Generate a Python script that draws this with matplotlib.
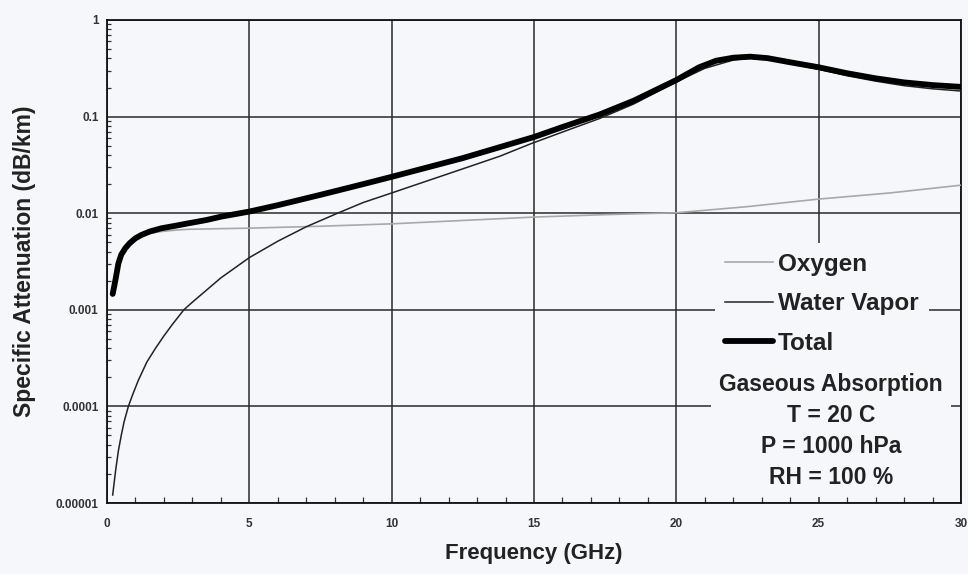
import matplotlib
matplotlib.use("Agg")
import matplotlib.pyplot as plt
from matplotlib.ticker import FixedLocator, LogLocator, NullFormatter, MultipleLocator

plt.rcParams['font.family'] = ['Liberation Sans', 'DejaVu Sans']

# ---- data ----
total_freq = [0.2, 0.3, 0.4, 0.5, 0.65, 0.8, 1.0, 1.2, 1.5, 1.9, 2.4, 2.85, 3.5, 4.0,
              5.0, 6.0, 7.5, 9.0, 10.0, 12.5, 15.0, 16.0, 17.3, 18.5, 20.0, 20.8,
              21.4, 22.0, 22.6, 23.2, 24.0, 25.0, 26.0, 27.0, 28.0, 29.0, 30.0]
total_val = [0.00146, 0.00206, 0.00302, 0.00372, 0.00437, 0.0049, 0.0055, 0.00594,
             0.00646, 0.00697, 0.00741, 0.00785, 0.00851, 0.0092, 0.0104, 0.0121,
             0.0155, 0.0200, 0.0238, 0.0372, 0.0615, 0.078, 0.105, 0.146, 0.239,
             0.324, 0.379, 0.407, 0.417, 0.403, 0.365, 0.324, 0.281, 0.249, 0.226,
             0.212, 0.203]

oxygen_freq = [0.2, 0.3, 0.4, 0.5, 0.65, 0.8, 1.0, 1.2, 1.5, 1.9, 2.4, 2.85, 4.0, 5.0,
               7.5, 10.0, 12.5, 15.0, 17.5, 20.0, 22.5, 25.0, 27.5, 30.0]
oxygen_val = [0.00145, 0.00204, 0.00299, 0.00367, 0.00427, 0.00479, 0.00537, 0.00575,
              0.00617, 0.00646, 0.00668, 0.00681, 0.00692, 0.00700, 0.00733, 0.00776,
              0.00841, 0.00912, 0.00966, 0.0101, 0.0117, 0.0140, 0.0162, 0.0195]

water_freq = [0.2, 0.3, 0.4, 0.5, 0.6, 0.75, 0.9, 1.1, 1.4, 1.7, 2.0, 2.3, 2.7, 3.0,
              4.0, 5.0, 6.0, 7.0, 8.1, 9.0, 10.0, 11.0, 12.5, 13.8, 14.9, 16.0, 17.3,
              18.5, 20.0, 21.0, 22.0, 22.6, 23.2, 24.0, 25.0, 26.0, 27.0, 28.0, 29.0,
              30.0]
water_val = [1.21e-5, 2.14e-5, 3.47e-5, 5.01e-5, 6.92e-5, 1.0e-4, 1.32e-4, 1.86e-4,
             2.88e-4, 3.98e-4, 5.37e-4, 7.08e-4, 1.0e-3, 1.20e-3, 2.14e-3, 3.47e-3,
             5.13e-3, 7.24e-3, 0.0100, 0.0129, 0.0162, 0.0204, 0.0288, 0.0389, 0.0525,
             0.0692, 0.0955, 0.135, 0.229, 0.316, 0.385, 0.405, 0.394, 0.353, 0.309,
             0.265, 0.233, 0.209, 0.194, 0.184]

x_ticks = [0, 5, 10, 15, 20, 25, 30]
y_ticks = [1e-5, 1e-4, 1e-3, 1e-2, 1e-1, 1]
y_tick_labels = ['0.00001', '0.0001', '0.001', '0.01', '0.1', '1']

legend_labels = ['Oxygen', 'Water Vapor', 'Total']
info_text = "Gaseous Absorption\nT = 20 C\nP = 1000 hPa\nRH = 100 %"

# ---- figure ----
bg = '#f6f7fb'
fig = plt.figure(figsize=(9.68, 5.74), dpi=100, facecolor=bg)
ax = fig.add_axes([107/968, 1-503/574, (961-107)/968, (503-20)/574])
ax.set_facecolor(bg)

ax.set_yscale('log')
ax.set_xlim(0, 30)
ax.set_ylim(1e-5, 1)

l_ox, = ax.plot(oxygen_freq, oxygen_val, color='#a8a8a8', lw=1.2, zorder=3)
l_wv, = ax.plot(water_freq, water_val, color='#222222', lw=1.1, zorder=4)
l_tot, = ax.plot(total_freq, total_val, color='black', lw=4.2, zorder=5,
                 solid_capstyle='round', solid_joinstyle='round')

# grid and ticks
ax.xaxis.set_major_locator(FixedLocator(x_ticks))
ax.xaxis.set_minor_locator(MultipleLocator(1))
ax.yaxis.set_major_locator(FixedLocator(y_ticks))
ax.yaxis.set_minor_locator(LogLocator(base=10, subs=range(2, 10)))
ax.yaxis.set_minor_formatter(NullFormatter())
ax.set_yticklabels(y_tick_labels)
ax.grid(True, which='major', color='#2a2a2a', lw=1.1)
ax.set_axisbelow(True)

ax.tick_params(which='major', direction='in', length=0)
ax.tick_params(axis='y', which='major', pad=6)
ax.tick_params(axis='x', which='major', pad=11)
ax.tick_params(which='minor', direction='in', length=4, width=0.9, color='#333333')
ax.tick_params(axis='y', which='minor', length=3)
for lab in ax.get_xticklabels() + ax.get_yticklabels():
    lab.set_fontsize(8.5)
    lab.set_fontweight('bold')
    lab.set_color('#333333')

for s in ax.spines.values():
    s.set_linewidth(1.3)
    s.set_color('#111111')

ax.set_xlabel('Frequency (GHz)', fontsize=16, fontweight='bold', labelpad=9,
              color='#222222')
ax.set_ylabel('Specific Attenuation (dB/km)', fontsize=16.5, fontweight='bold',
              labelpad=14, color='#222222')

# legend
leg = ax.legend([l_ox, l_wv, l_tot], legend_labels, loc='upper left',
                bbox_to_anchor=(0.712, 0.538), frameon=True, fancybox=False,
                prop={'size': 17.5, 'weight': 'bold'}, handlelength=2.0,
                handletextpad=0.2, labelspacing=0.68, borderpad=0.4,
                borderaxespad=0.0)
leg.get_frame().set_facecolor(bg)
leg.get_frame().set_edgecolor('none')
leg.get_frame().set_alpha(1)
leg.set_zorder(6)
for t in leg.get_texts():
    t.set_color('#222222')

ax.text(0.848, 0.149, info_text, transform=ax.transAxes, ha='center', va='center',
        fontsize=16.5, fontweight='bold', color='#222222', linespacing=1.45,
        zorder=6, bbox=dict(boxstyle='square,pad=0.35', fc=bg, ec='none'))

fig.savefig('out.png', dpi=100, facecolor=bg)
